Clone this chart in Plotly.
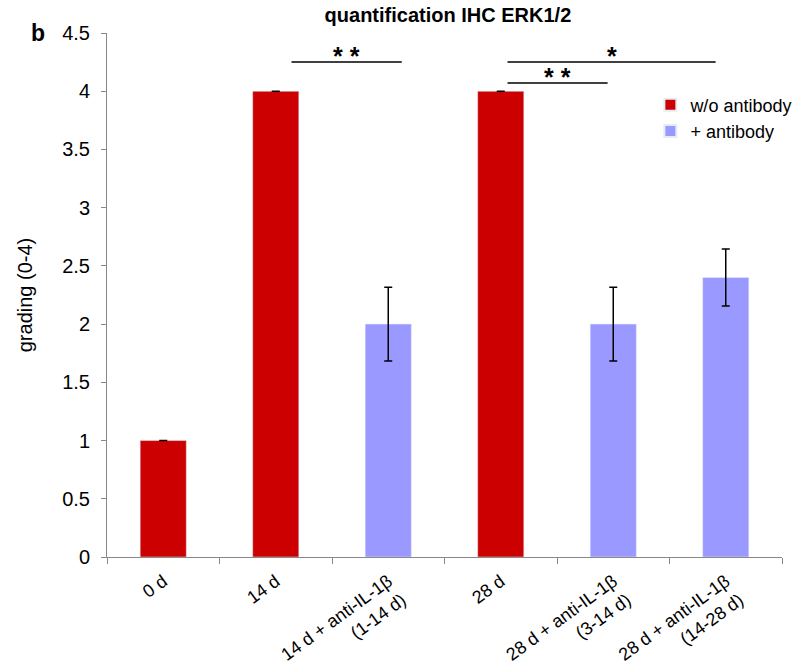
import plotly.graph_objects as go

categories = ["0 d", "14 d", "14 d + anti-IL-1β<br>(1-14 d)", "28 d",
              "28 d + anti-IL-1β<br>(3-14 d)", "28 d + anti-IL-1β<br>(14-28 d)"]
wo_cats = [categories[0], categories[1], categories[3]]
wo_vals = [1.0, 4.0, 4.0]
wo_err = [0.0, 0.0, 0.0]
ab_cats = [categories[2], categories[4], categories[5]]
ab_vals = [2.0, 2.0, 2.4]
ab_err = [0.316, 0.316, 0.245]

# significance brackets: (x0, x1, y, label, label_y)
sig = [(1.14, 2.12, 4.25, "* *", 4.30),
       (3.06, 4.91, 4.25, "*", 4.30),
       (3.06, 3.95, 4.07, "* *", 4.12)]

fig = go.Figure()
fig.add_trace(go.Bar(x=wo_cats, y=wo_vals, name="w/o antibody", marker_color="#cc0000",
                     width=0.41,
                     error_y=dict(type="data", array=wo_err, color="black", thickness=1.5, width=4)))
fig.add_trace(go.Bar(x=ab_cats, y=ab_vals, name="+ antibody", marker_color="#9999ff",
                     width=0.41,
                     error_y=dict(type="data", array=ab_err, color="black", thickness=1.5, width=4)))

for x0, x1, y, lab, ly in sig:
    fig.add_shape(type="line", xref="x", yref="y", x0=x0, x1=x1, y0=y, y1=y,
                  line=dict(color="black", width=1.5))
    fig.add_annotation(x=(x0 + x1) / 2, y=ly, xref="x", yref="y", text="<b>" + lab + "</b>",
                       showarrow=False, font=dict(size=25, color="black"))

fig.add_annotation(x=(38 - 107) / 678, y=1.0, xref="paper", yref="paper", text="<b>b</b>",
                   showarrow=False, xanchor="center", yanchor="middle",
                   font=dict(size=23, color="black"))

fig.update_layout(
    width=810, height=668,
    margin=dict(l=107, r=25, t=33, b=111),
    plot_bgcolor="white", paper_bgcolor="white",
    barmode="overlay",
    font=dict(family="Liberation Sans, Arial, sans-serif", size=18, color="black"),
    title=dict(text="<b>quantification IHC ERK1/2</b>", x=0.553, xanchor="center",
               y=0.978, yanchor="middle", font=dict(size=20)),
    legend=dict(x=0.805, y=0.898, xanchor="left", yanchor="top", bgcolor="rgba(0,0,0,0)",
                font=dict(size=18), tracegroupgap=3, itemsizing="constant"),
    showlegend=True,
)
fig.update_xaxes(categoryorder="array", categoryarray=categories, automargin=False,
                 showline=True, linecolor="#888888", linewidth=1,
                 ticks="outside", tickson="boundaries", ticklen=6, tickcolor="#888888",
                 tickangle=-36, tickfont=dict(size=18), range=[-0.5, 5.5],
                 ticklabelstandoff=6)
fig.update_yaxes(range=[0, 4.5], dtick=0.5, showline=True, linecolor="#888888", linewidth=1,
                 ticks="outside", ticklen=5, tickcolor="#888888", showgrid=False,
                 zeroline=False, tickfont=dict(size=20), automargin=False,
                 ticklabelstandoff=7,
                 title=dict(text="grading (0-4)", font=dict(size=20), standoff=24))

fig.write_html("out.html", config={"displayModeBar": False},
               post_script="document.body.style.margin='0px';document.body.style.overflow='hidden';")
